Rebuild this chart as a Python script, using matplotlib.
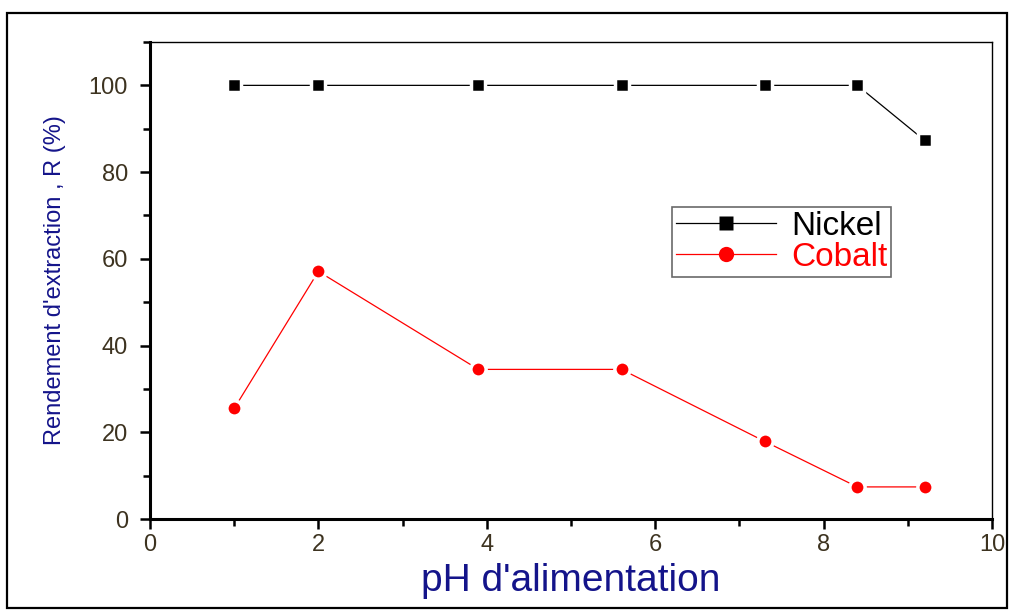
import matplotlib.pyplot as plt
from matplotlib.patches import Rectangle
from matplotlib.ticker import MultipleLocator

# Valeurs
ph = [1.0, 2.0, 3.9, 5.6, 7.3, 8.4, 9.2]
nickel = [100, 100, 100, 100, 100, 100, 87.3]
cobalt = [25.5, 57.1, 34.5, 34.5, 17.9, 7.4, 7.4]

plt.rcParams['font.family'] = ['Liberation Sans', 'DejaVu Sans']

fig = plt.figure(figsize=(10.12, 6.1), dpi=100)
ax = fig.add_axes([150/1012, 1 - 519/610, 842/1012, 477/610])

# cadre extérieur
fig.patches.append(Rectangle((7/1012, 2/610), 1000/1012, 595/610, transform=fig.transFigure,
                             fill=False, edgecolor='black', linewidth=1.6))

ax.plot(ph, nickel, '-', color='black', linewidth=0.9, marker='s', markersize=10,
        markerfacecolor='black', markeredgecolor='white', markeredgewidth=2.5, label='Nickel')
ax.plot(ph, cobalt, '-', color='red', linewidth=0.9, marker='o', markersize=11,
        markerfacecolor='red', markeredgecolor='white', markeredgewidth=2.5, label='Cobalt')

ax.set_xlim(0, 10)
ax.set_ylim(0, 110)
ax.xaxis.set_major_locator(MultipleLocator(2))
ax.xaxis.set_minor_locator(MultipleLocator(1))
ax.yaxis.set_major_locator(MultipleLocator(20))
ax.yaxis.set_minor_locator(MultipleLocator(10))
ax.tick_params(which='both', direction='out', width=1.8, labelsize=17, labelcolor='#3d3320')
ax.tick_params(which='major', length=7)
ax.tick_params(axis='y', which='major', pad=9)
ax.tick_params(axis='x', which='major', pad=4)
ax.tick_params(which='minor', length=5)

ax.spines['left'].set_linewidth(2.2)
ax.spines['bottom'].set_linewidth(2.2)
ax.spines['top'].set_linewidth(1.0)
ax.spines['right'].set_linewidth(1.0)

ax.set_xlabel("pH d'alimentation", fontsize=28, color='#14148a', labelpad=5)
ax.set_ylabel("Rendement d'extraction , R (%)", fontsize=17, color='#14148a', labelpad=16)

for m in ax.get_lines():
    m.set_clip_on(False)

leg = ax.legend(loc='upper left', bbox_to_anchor=(522/842, 1 - 165/477), fontsize=24,
                frameon=True, fancybox=False, edgecolor='#444444', handlelength=3.0,
                borderpad=0.12, labelspacing=0.0, handletextpad=0.45, borderaxespad=0)
leg.get_frame().set_linewidth(1.2)
leg.get_texts()[1].set_color('red')
for h in leg.legend_handles:
    h.set_markeredgecolor('none')

fig.savefig('out.png', dpi=100)
